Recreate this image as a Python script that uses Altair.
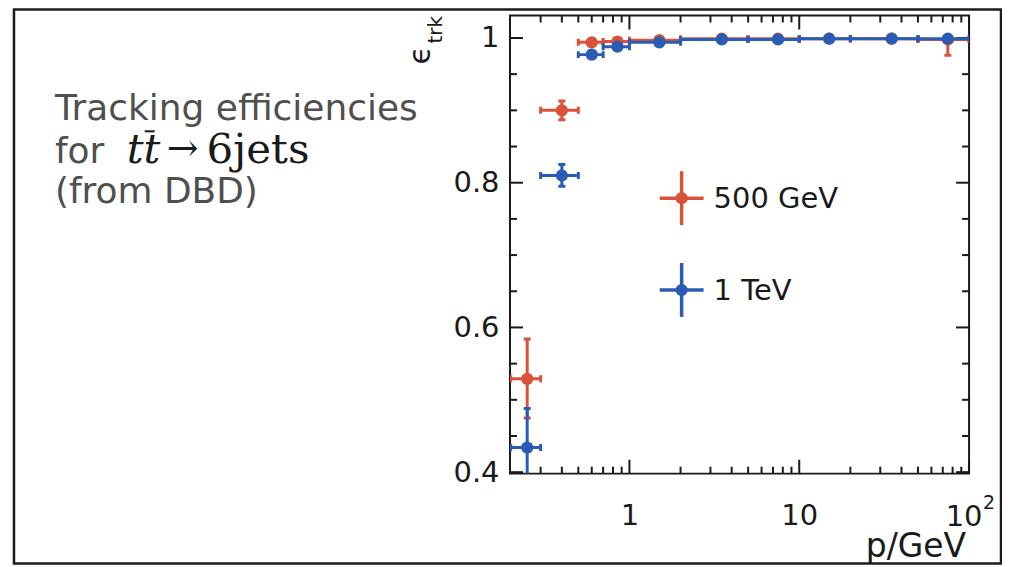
import altair as alt
import pandas as pd

# ---------------- data ----------------
p_lo = [0.2, 0.3, 0.5, 0.7, 1, 2, 5, 10, 20, 50]
p_hi = [0.3, 0.5, 0.7, 1, 2, 5, 10, 20, 50, 100]
p_mid = [0.25, 0.4, 0.6, 0.85, 1.5, 3.5, 7.5, 15, 35, 75]

eff_500 = [0.529, 0.900, 0.994, 0.995, 0.997, 0.999, 0.999, 0.999, 0.999, 0.998]
err_500_dn = [0.054, 0.013, 0.004, 0.003, 0.002, 0.001, 0.001, 0.001, 0.002, 0.022]
err_500_up = [0.055, 0.013, 0.004, 0.003, 0.002, 0.001, 0.001, 0.001, 0.001, 0.002]

eff_1tev = [0.434, 0.810, 0.977, 0.988, 0.994, 0.998, 0.998, 0.999, 0.999, 0.999]
err_1tev_dn = [0.055, 0.015, 0.005, 0.003, 0.002, 0.001, 0.001, 0.001, 0.001, 0.002]
err_1tev_up = [0.054, 0.015, 0.005, 0.003, 0.002, 0.001, 0.001, 0.001, 0.001, 0.001]

series_names = ["500 GeV", "1 TeV"]
series_colors = ["#d9533b", "#2b5cb5"]

y_ticks_major = [0.4, 0.6, 0.8, 1.0]
y_ticks_minor = [0.45, 0.5, 0.55, 0.65, 0.7, 0.75, 0.85, 0.9, 0.95]
x_ticks_major = [1, 10, 100]
x_ticks_minor = [0.3, 0.4, 0.5, 0.6, 0.7, 0.8, 0.9,
                 2, 3, 4, 5, 6, 7, 8, 9,
                 20, 30, 40, 50, 60, 70, 80, 90]

rows = []
for name, eff, dn, up in [(series_names[0], eff_500, err_500_dn, err_500_up),
                          (series_names[1], eff_1tev, err_1tev_dn, err_1tev_up)]:
    for i in range(len(p_mid)):
        rows.append({"series": name, "p": p_mid[i], "lo": p_lo[i], "hi": p_hi[i],
                     "eff": eff[i], "dn": eff[i] - dn[i], "up": eff[i] + up[i]})
df = pd.DataFrame(rows)

# ---------------- layout ----------------
W, H = 460, 459
FONT = "DejaVu Sans"
SERIF = "DejaVu Serif"
INK = "#1a1a1a"
GREY = "#4f4f4f"
MSIZE = 150

xscale = alt.Scale(type="log", domain=[0.198, 100], nice=False)
yscale = alt.Scale(domain=[0.398, 1.031], nice=False, zero=False)

xaxis = alt.Axis(values=x_ticks_major[:2],
                 labelExpr="format(datum.value, 'd')",
                 ticks=False, domain=False, grid=False, title=None,
                 labelFont=FONT, labelFontSize=29, labelColor=INK, labelPadding=28,
                 labelFlush=False, labelOverlap=False, labelBound=False)
yaxis = alt.Axis(values=y_ticks_major,
                 labelExpr="datum.value >= 1 ? '1' : format(datum.value, '.1f')",
                 ticks=False, domain=False, grid=False, title=None,
                 labelFont=FONT, labelFontSize=29, labelColor=INK, labelPadding=11,
                 labelFlush=False, labelOverlap=False, labelBound=False)


def X(field):
    return alt.X(f"{field}:Q", scale=xscale, axis=xaxis)


def Y(field):
    return alt.Y(f"{field}:Q", scale=yscale, axis=yaxis)


def series_layers(name, color):
    base = alt.Chart(df).transform_filter(alt.datum.series == name)
    hbar = base.mark_rule(color=color, strokeWidth=3, clip=True).encode(
        x=X("lo"), x2="hi", y=Y("eff"))
    vbar = base.mark_rule(color=color, strokeWidth=3, clip=True).encode(
        x=X("p"), y=Y("dn"), y2="up")
    hcap_l = base.mark_tick(orient="vertical", size=7, thickness=3, color=color,
                            opacity=1, clip=True).encode(x=X("lo"), y=Y("eff"))
    hcap_r = base.mark_tick(orient="vertical", size=7, thickness=3, color=color,
                            opacity=1, clip=True).encode(x=X("hi"), y=Y("eff"))
    vcap_d = base.mark_tick(orient="horizontal", size=7, thickness=3, color=color,
                            opacity=1, clip=True).encode(x=X("p"), y=Y("dn"))
    vcap_u = base.mark_tick(orient="horizontal", size=7, thickness=3, color=color,
                            opacity=1, clip=True).encode(x=X("p"), y=Y("up"))
    pts = base.mark_point(filled=True, size=MSIZE, opacity=1, color=color,
                          clip=True).encode(x=X("p"), y=Y("eff"))
    return [hbar, vbar, hcap_l, hcap_r, vcap_d, vcap_u, pts]


# ticks pointing inward on all four sides
def yticks(vals, length):
    d = pd.DataFrame({"t": vals})
    left = alt.Chart(d).mark_rule(color=INK, strokeWidth=2).encode(
        y=Y("t"), x=alt.value(0), x2=alt.value(length))
    right = alt.Chart(d).mark_rule(color=INK, strokeWidth=2).encode(
        y=Y("t"), x=alt.value(W - length), x2=alt.value(W))
    return [left, right]


def xticks(vals, length):
    d = pd.DataFrame({"t": vals})
    bottom = alt.Chart(d).mark_rule(color=INK, strokeWidth=2, clip=True).encode(
        x=X("t"), y=alt.value(H - length), y2=alt.value(H))
    top = alt.Chart(d).mark_rule(color=INK, strokeWidth=2, clip=True).encode(
        x=X("t"), y=alt.value(0), y2=alt.value(length))
    return [bottom, top]


one = alt.Data(values=[{"k": 0}])


def legend_entry(name, color, cx, cy):
    h = alt.Chart(one).mark_rule(color=color, strokeWidth=3.5).encode(
        x=alt.value(cx - 22), x2=alt.value(cx + 22), y=alt.value(cy))
    v = alt.Chart(one).mark_rule(color=color, strokeWidth=3.5).encode(
        x=alt.value(cx), y=alt.value(cy - 27), y2=alt.value(cy + 27))
    pt = alt.Chart(one).mark_point(filled=True, size=MSIZE, opacity=1, color=color).encode(
        x=alt.value(cx), y=alt.value(cy))
    tx = alt.Chart(one).mark_text(text=name, align="left", baseline="middle",
                                  font=FONT, fontSize=29, color=INK).encode(
        x=alt.value(cx + 32), y=alt.value(cy + 1))
    return [h, v, pt, tx]


def label(text, x, y, size, font=FONT, color=INK, align="left", baseline="alphabetic",
          angle=0, style="normal"):
    return alt.Chart(one).mark_text(text=text, align=align, baseline=baseline, font=font,
                                    fontSize=size, color=color, angle=angle,
                                    fontStyle=style).encode(
        x=alt.value(x), y=alt.value(y))


layers = []
# slide frame
layers.append(alt.Chart(one).mark_rect(fillOpacity=0, stroke="#1c1c1c", strokeWidth=2.5).encode(
    x=alt.value(-497), x2=alt.value(492), y=alt.value(-6), y2=alt.value(549)))

layers += yticks(y_ticks_major, 13) + yticks(y_ticks_minor, 7)
layers += xticks(x_ticks_major, 14) + xticks(x_ticks_minor, 7)
layers += series_layers(series_names[0], series_colors[0])
layers += series_layers(series_names[1], series_colors[1])
layers += legend_entry(series_names[0], series_colors[0], 172, 183)
layers += legend_entry(series_names[1], series_colors[1], 172, 275)

# "10^2" label at the right end of the x axis
layers.append(label("10", W - 5, 511, 29, align="center", baseline="alphabetic"))
layers.append(label("2", W + 14, 494, 19, align="left", baseline="alphabetic"))

# axis titles
layers.append(label("p/GeV", 457, 543, 33, align="right"))
layers.append(label("\u03f5", -80, 49, 30, angle=270))
layers.append(label("trk", -68, 28, 20, angle=270))

# left-hand slide text
layers.append(label("Tracking efficiencies", -456, 105, 36, color=GREY))
layers.append(label("for", -456, 148, 36, color=GREY))
layers.append(label("tt", -384, 148, 42, font=SERIF, style="italic"))
layers.append(alt.Chart(one).mark_rule(color=INK, strokeWidth=2).encode(
    x=alt.value(-366), x2=alt.value(-356), y=alt.value(116)))
layers.append(label("\u2192", -344, 146, 38, font=SERIF))
layers.append(label("6jets", -304, 148, 42, font=SERIF))
layers.append(label("(from DBD)", -456, 188, 36, color=GREY))

chart = alt.layer(*layers).properties(
    width=W, height=H,
    padding={"left": 503, "top": 7, "right": 33, "bottom": 91},
    autosize=alt.AutoSizeParams(type="none"),
    background="white",
).configure_view(stroke=INK, strokeWidth=2)

chart.save("out.html", embed_options={"renderer": "svg", "actions": False})
